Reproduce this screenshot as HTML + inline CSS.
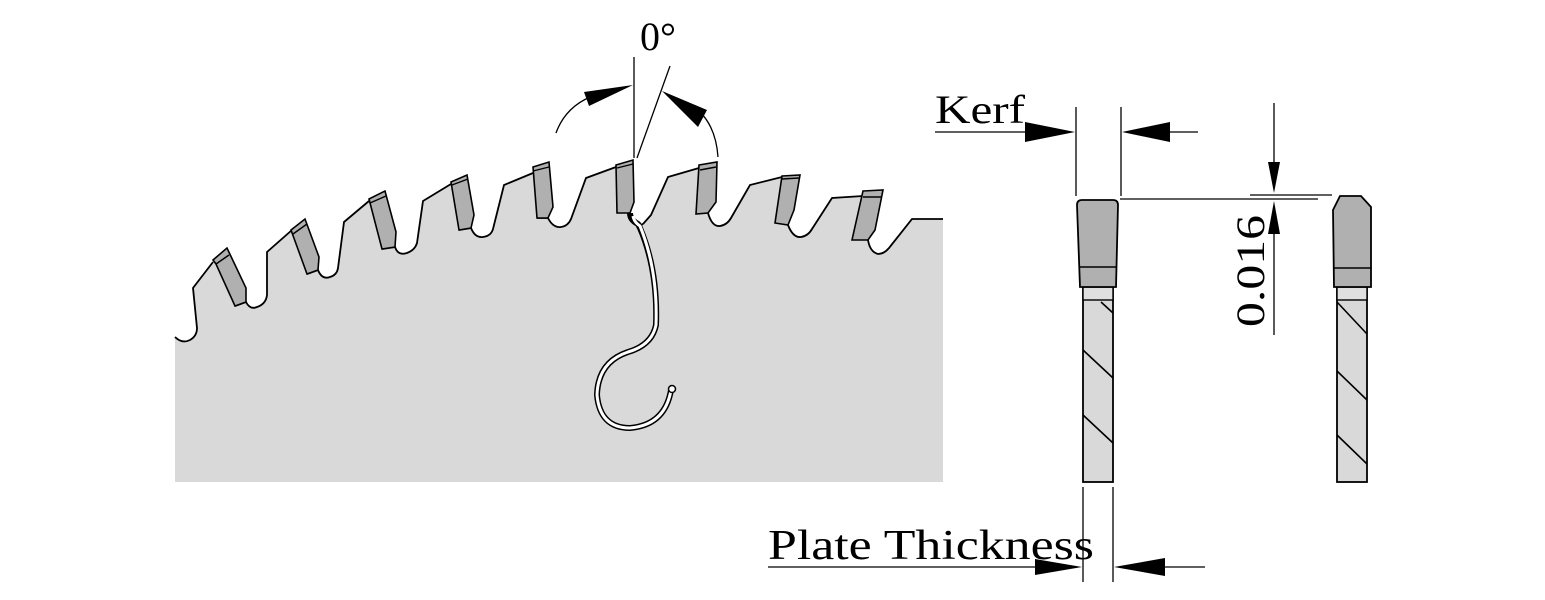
<!DOCTYPE html>
<html><head><meta charset="utf-8"><style>html,body{margin:0;padding:0;background:#fff}svg{display:block}</style></head>
<body>
<svg width="1545" height="600" viewBox="0 0 1545 600" xmlns="http://www.w3.org/2000/svg" font-family="Liberation Serif, serif">
<path d="M175,482 L175,337 Q182,344 190,340 Q197,336 197,328 L193,288 L213,262 L216,263 L235,306 L246,302 Q250,310 257,307 Q266,304 267,295 L267,252 L292,230 L307,274 L318,270 Q322,280 330,277 Q337,275 338,268 L344,222 L369,201 L382,249 L395,247 Q398,256 407,253 Q415,250 417,243 L423,201 L451,184 L459,230 L471,228 Q475,238 483,237 Q491,236 493,229 L504,185 L533,173 L537,218 L548,218 Q553,228 561,227 Q568,226 571,219 L586,178 L616,167 L617,213 L630,214 L643,224 L651,215 L668,177 L699,168 L696,214 L708,213 Q712,227 720,226 Q727,225 731,218 L750,185 L782,177 L775,223 L788,225 Q793,238 801,237 Q808,236 812,229 L832,198 L863,196 L852,240 L868,240 Q870,252 878,254 Q884,254 889,248 L912,219 L943,219 L943,482 Z" fill="#d9d9d9" stroke="none"/>
<path d="M175,337 Q182,344 190,340 Q197,336 197,328 L193,288 L213,262 M235,306 L246,302 Q250,310 257,307 Q266,304 267,295 L267,252 L292,230 M307,274 L318,270 Q322,280 330,277 Q337,275 338,268 L344,222 L369,201 M382,249 L395,247 Q398,256 407,253 Q415,250 417,243 L423,201 L451,184 M459,230 L471,228 Q475,238 483,237 Q491,236 493,229 L504,185 L533,173 M537,218 L548,218 Q553,228 561,227 Q568,226 571,219 L586,178 L616,167 M643,224 L651,215 L668,177 L699,168 M708,213 Q712,227 720,226 Q727,225 731,218 L750,185 L782,177 M788,225 Q793,238 801,237 Q808,236 812,229 L832,198 L863,196 M868,240 Q870,252 878,254 Q884,254 889,248 L912,219 L943,219" fill="none" stroke="#000" stroke-width="1.8"/>
<g fill="#b0b0b0" stroke="#000" stroke-width="1.6">
<path d="M213,260 L227,248 L246,288 L246,302 L235,306 L216,264 Z"/>
<path d="M291,230 L305,219 L319,257 L318,270 L307,274 Z"/>
<path d="M369,199 L385,191 L396,232 L395,247 L382,249 Z"/>
<path d="M451,182 L467,175 L474,215 L471,228 L459,230 Z"/>
<path d="M533,167 L549,162 L553,207 L548,218 L537,218 Z"/>
<path d="M616,165 L633,160 L634,202 L630,213 L617,213 Z"/>
<path d="M699,165 L717,162 L716,202 L708,213 L696,214 Z"/>
<path d="M782,176 L800,175 L794,210 L788,225 L775,223 Z"/>
<path d="M863,191 L883,190 L875,230 L868,240 L852,240 Z"/>
</g>
<g stroke="#000" stroke-width="1.4" fill="none">
<path d="M216,264 L229,255"/><path d="M293,234 L307,224"/><path d="M370,203 L386,196"/><path d="M452,185 L468,179"/><path d="M533,171 L549,167"/><path d="M617,168 L633,164"/><path d="M700,170 L716,167"/><path d="M782,179 L799,178"/><path d="M863,197 L882,197"/>
</g>
<path d="M630,213 Q630,220 638,224 L640,228 Q658,270 656,325 Q652,345 628,352 Q598,362 597,395 Q600,428 630,428 Q665,425 671,390" fill="none" stroke="#000" stroke-width="6" stroke-linejoin="round"/>
<path d="M643,224 Q638,226 640,230" fill="none" stroke="#000" stroke-width="2"/>
<path d="M633,216 Q634,222 640,226 Q658,270 656,325 Q652,345 628,352 Q598,362 597,395 Q600,428 630,428 Q665,425 671,390" fill="none" stroke="#fff" stroke-width="3"/>
<circle cx="672" cy="389" r="3.5" fill="#fff" stroke="#000" stroke-width="1.5"/>
<g stroke="#000" stroke-width="1.3" fill="none">
<line x1="634" y1="57" x2="634" y2="158"/>
<line x1="670" y1="66" x2="637" y2="158"/>
<path d="M556,133 Q565,108 590,97"/>
<path d="M718,157 Q716,128 700,112"/>
</g>
<path d="M584,92 L633,85 L589,106 Z" fill="#000"/>
<path d="M662,91 L707,110 L698,127 Z" fill="#000"/>
<text x="640" y="50" font-size="40">0°</text>
<text x="935" y="123" font-size="40" textLength="90" lengthAdjust="spacingAndGlyphs">Kerf</text>
<g stroke="#000" stroke-width="1.3">
<line x1="935" y1="132" x2="1030" y2="132"/>
<line x1="1076" y1="107" x2="1076" y2="196"/>
<line x1="1121" y1="107" x2="1121" y2="196"/>
<line x1="1165" y1="132" x2="1198" y2="132"/>
<line x1="1120" y1="199" x2="1318" y2="199"/>
<line x1="1250" y1="195" x2="1332" y2="195"/>
<line x1="1274" y1="103" x2="1274" y2="170"/>
<line x1="1274" y1="220" x2="1274" y2="335"/>
<line x1="1083" y1="487" x2="1083" y2="582"/>
<line x1="1113" y1="487" x2="1113" y2="582"/>
<line x1="768" y1="567" x2="1040" y2="567"/>
<line x1="1160" y1="567" x2="1205" y2="567"/>
</g>
<path d="M1025,122 L1075,132 L1025,142 Z" fill="#000"/>
<path d="M1170,122 L1122,132 L1170,142 Z" fill="#000"/>
<path d="M1268,162 L1274,193 L1280,162 Z" fill="#000"/>
<path d="M1268,234 L1274,201 L1280,234 Z" fill="#000"/>
<path d="M1035,559 L1082,567 L1035,575 Z" fill="#000"/>
<path d="M1165,558 L1114,567 L1165,576 Z" fill="#000"/>
<text transform="translate(1264,327) rotate(-90)" font-size="40" textLength="112" lengthAdjust="spacingAndGlyphs">0.016</text>
<text x="768" y="559" font-size="42" textLength="326" lengthAdjust="spacingAndGlyphs">Plate Thickness</text>
<g stroke="#000" stroke-width="1.8">
<rect x="1083" y="287" width="30" height="195" fill="#d9d9d9"/>
<rect x="1083" y="287" width="30" height="13" fill="#e0e0e0" stroke-width="1.4"/>
<path d="M1077,205 Q1077,200 1082,200 L1113,200 Q1118,200 1118,205 L1116,287 L1080,287 Z" fill="#b0b0b0"/>
<line x1="1079" y1="267" x2="1117" y2="267" stroke-width="1.4"/>
<path d="M1101,302 L1113,313 M1083,350 L1113,378 M1083,415 L1113,443" fill="none" stroke-width="1.6"/>
<rect x="1337" y="287" width="30" height="195" fill="#d9d9d9"/>
<rect x="1337" y="287" width="30" height="13" fill="#e0e0e0" stroke-width="1.4"/>
<path d="M1333,210 L1340,196 L1361,196 L1371,207 L1371,287 L1334,287 Z" fill="#b0b0b0"/>
<line x1="1334" y1="268" x2="1371" y2="268" stroke-width="1.4"/>
<path d="M1337,302 L1367,334 M1337,371 L1367,400 M1337,435 L1367,464" fill="none" stroke-width="1.6"/>
</g>
</svg>
</body></html>
